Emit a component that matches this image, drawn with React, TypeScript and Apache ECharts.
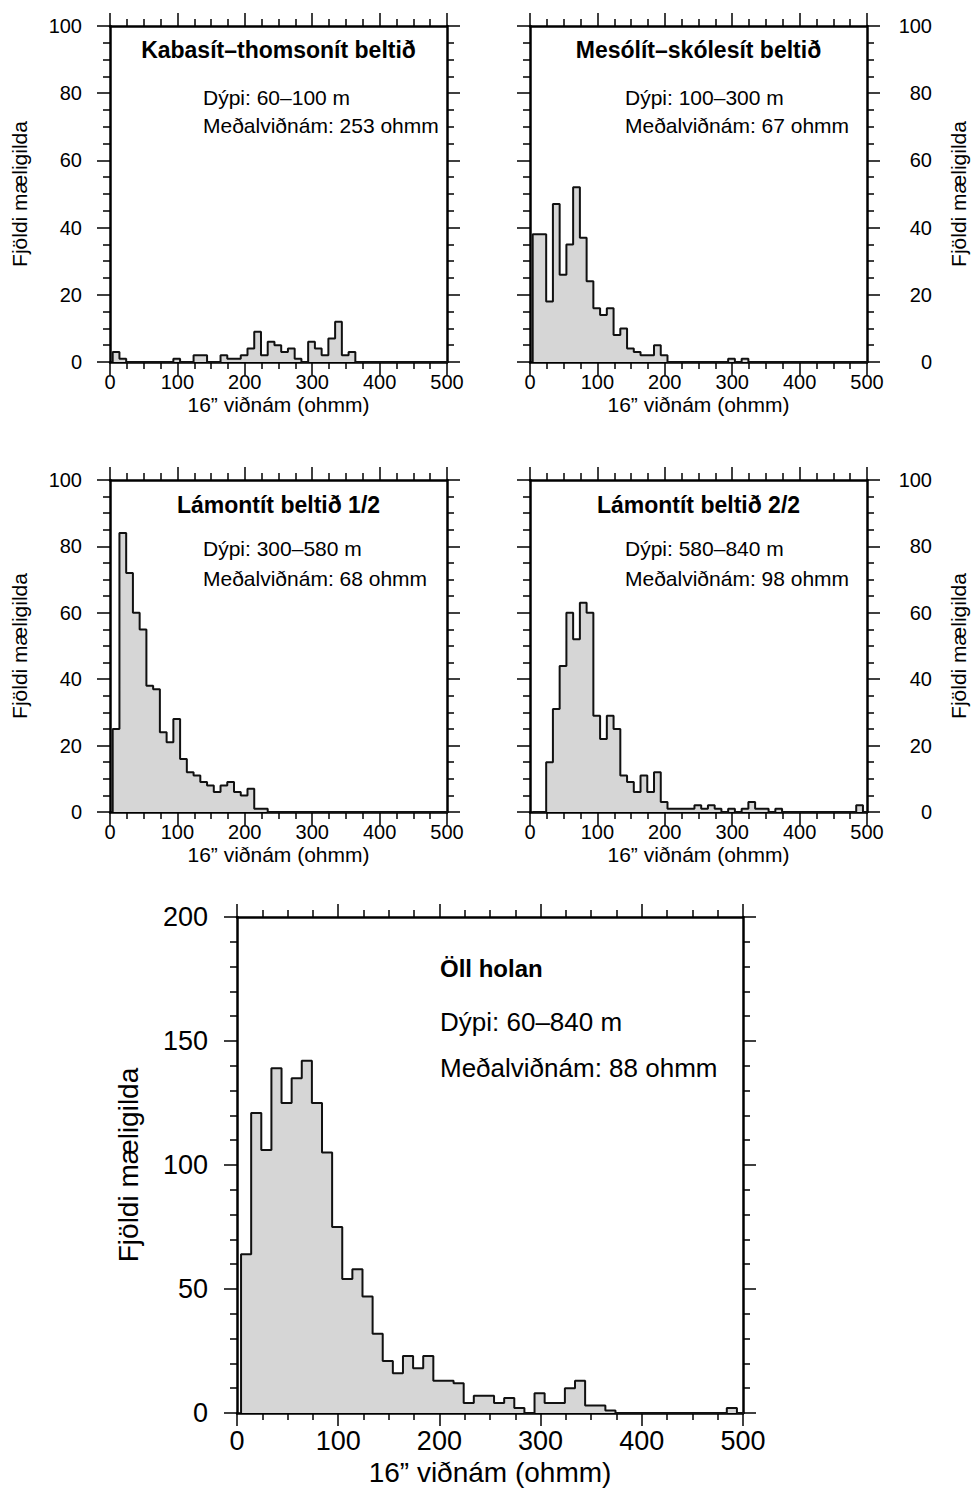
import React, { useEffect, useRef } from "react";
import * as echarts from "echarts";

// ---------- DATA ----------
const BIN_START = 4; // ohmm, left edge of first bin
const BIN_WIDTH = 10; // ohmm

const countsKabasit = [
  3, 1, 0, 0, 0, 0, 0, 0, 0, 1, 0, 0, 2, 2, 0, 0, 2, 1, 1, 2,
  4, 9, 2, 6, 5, 3, 4, 1, 0, 6, 4, 2, 7, 12, 2, 3, 0, 0, 0, 0,
  0, 0, 0, 0, 0, 0, 0, 0, 0, 0,
];
const countsMesolit = [
  38, 38, 18, 47, 26, 35, 52, 37, 24, 16, 14, 16, 8, 10, 4, 3, 2, 2, 5, 2,
  0, 0, 0, 0, 0, 0, 0, 0, 0, 1, 0, 1, 0, 0, 0, 0, 0, 0, 0, 0,
  0, 0, 0, 0, 0, 0, 0, 0, 0, 0,
];
const countsLamontit1 = [
  25, 84, 72, 60, 55, 38, 37, 24, 21, 28, 16, 12, 11, 9, 8, 6, 8, 9, 6, 5,
  7, 1, 1, 0, 0, 0, 0, 0, 0, 0, 0, 0, 0, 0, 0, 0, 0, 0, 0, 0,
  0, 0, 0, 0, 0, 0, 0, 0, 0, 0,
];
const countsLamontit2 = [
  0, 0, 15, 31, 44, 60, 52, 63, 60, 29, 22, 29, 25, 11, 9, 6, 11, 6, 12, 3,
  1, 1, 1, 1, 2, 1, 2, 1, 0, 1, 0, 1, 3, 1, 1, 0, 1, 0, 0, 0,
  0, 0, 0, 0, 0, 0, 0, 0, 2, 0,
];
const countsAll = [
  64, 121, 106, 139, 125, 135, 142, 125, 105, 75, 54, 58, 47, 32, 21, 16, 23, 18, 23, 13,
  13, 12, 4, 7, 7, 4, 6, 2, 0, 8, 4, 4, 10, 13, 3, 3, 1, 0, 0, 0,
  0, 0, 0, 0, 0, 0, 0, 0, 2, 0,
];

const titles = [
  "Kabasít–thomsonít beltið",
  "Mesólít–skólesít beltið",
  "Lámontít beltið 1/2",
  "Lámontít beltið 2/2",
  "Öll holan",
];
const depths = [
  "Dýpi: 60–100 m",
  "Dýpi: 100–300 m",
  "Dýpi: 300–580 m",
  "Dýpi: 580–840 m",
  "Dýpi: 60–840 m",
];
const means = [
  "Meðalviðnám: 253 ohmm",
  "Meðalviðnám: 67 ohmm",
  "Meðalviðnám: 68 ohmm",
  "Meðalviðnám: 98 ohmm",
  "Meðalviðnám: 88 ohmm",
];
const allCounts = [countsKabasit, countsMesolit, countsLamontit1, countsLamontit2, countsAll];
const xMax = 500;
const xInterval = 100;
const yMaxes = [100, 100, 100, 100, 200];
const yIntervals = [20, 20, 20, 20, 50];
const xName = "16” viðnám (ohmm)";
const yName = "Fjöldi mæligilda";

// ---------- LAYOUT ----------
const FONT = "Liberation Sans, Arial, Helvetica, sans-serif";
const small = { fs: 20, tfs: 23, bfs: 21, nameFs: 21, yMinor: 4, xLabelMargin: 10 };
const layouts = [
  { ...small, left: 110, top: 26, width: 337, height: 336, labelSide: "left",
    titleY: 50, depthY: 97, meanY: 125, textX: 203, yNameX: 19, xNameY: 404, yLabelMargin: 28 },
  { ...small, left: 530, top: 26, width: 337, height: 336, labelSide: "right",
    titleY: 50, depthY: 97, meanY: 125, textX: 625, yNameX: 958, xNameY: 404, yLabelMargin: 65 },
  { ...small, left: 110, top: 480, width: 337, height: 332, labelSide: "left",
    titleY: 505, depthY: 548, meanY: 578, textX: 203, yNameX: 19, xNameY: 854, yLabelMargin: 28 },
  { ...small, left: 530, top: 480, width: 337, height: 332, labelSide: "right",
    titleY: 505, depthY: 548, meanY: 578, textX: 625, yNameX: 958, xNameY: 854, yLabelMargin: 65 },
  { fs: 27, tfs: 24, bfs: 26, nameFs: 28, yMinor: 5, xLabelMargin: 14,
    left: 237, top: 917, width: 506, height: 496, labelSide: "left",
    titleY: 968, depthY: 1022, meanY: 1068, textX: 440, yNameX: 128, xNameY: 1472, yLabelMargin: 29 },
];

const frameLine = { color: "#000", width: 2.5 };
const tickLine = { color: "#000", width: 1.5 };

function stepData(counts: number[]) {
  const pts: number[][] = [[BIN_START, 0]];
  counts.forEach((c, i) => pts.push([BIN_START + i * BIN_WIDTH, c]));
  pts.push([BIN_START + counts.length * BIN_WIDTH, 0]);
  return pts;
}

function buildOption() {
  const grid: any[] = [];
  const xAxis: any[] = [];
  const yAxis: any[] = [];
  const series: any[] = [];
  const graphic: any[] = [];

  layouts.forEach((L, i) => {
    grid.push({ left: L.left, top: L.top, width: L.width, height: L.height, containLabel: false });
    const tickLen = 13;
    const minorLen = 7;
    const xCommon = {
      gridIndex: i, type: "value", min: 0, max: xMax, interval: xInterval,
      axisLine: { show: true, onZero: false, lineStyle: frameLine },
      axisTick: { show: true, length: tickLen, lineStyle: tickLine },
      minorTick: { show: true, splitNumber: 4, length: minorLen, lineStyle: tickLine },
      splitLine: { show: false }, minorSplitLine: { show: false },
    };
    xAxis.push({
      ...xCommon, position: "bottom",
      axisLabel: { show: true, fontSize: L.fs, color: "#000", fontFamily: FONT, margin: L.xLabelMargin, showMinLabel: true, showMaxLabel: true },
    });
    xAxis.push({ ...xCommon, position: "top", axisLabel: { show: false } });

    const yCommon = {
      gridIndex: i, type: "value", min: 0, max: yMaxes[i], interval: yIntervals[i],
      axisLine: { show: true, onZero: false, lineStyle: frameLine },
      axisTick: { show: true, length: tickLen, lineStyle: tickLine },
      minorTick: { show: true, splitNumber: L.yMinor, length: minorLen, lineStyle: tickLine },
      splitLine: { show: false }, minorSplitLine: { show: false },
    };
    const labelOn = {
      show: true, fontSize: L.fs, color: "#000", fontFamily: FONT, margin: L.yLabelMargin,
      showMinLabel: true, showMaxLabel: true, align: "right",
    };
    yAxis.push({ ...yCommon, position: "left", axisLabel: L.labelSide === "left" ? labelOn : { show: false } });
    yAxis.push({ ...yCommon, position: "right", axisLabel: L.labelSide === "right" ? labelOn : { show: false } });

    series.push({
      type: "line",
      xAxisIndex: 2 * i,
      yAxisIndex: 2 * i,
      step: "end",
      symbol: "none",
      data: stepData(allCounts[i]),
      lineStyle: { color: "#111", width: 2 },
      areaStyle: { color: "#d6d6d6", opacity: 1 },
      clip: true,
      z: 1,
    });

    // texts
    if (i === 4) {
      graphic.push({
        type: "text", x: L.textX, y: L.titleY,
        style: { text: titles[i], font: `bold ${L.tfs}px ${FONT}`, fill: "#000", textAlign: "left", textVerticalAlign: "middle" },
      });
    } else {
      graphic.push({
        type: "text", x: L.left + L.width / 2, y: L.titleY,
        style: { text: titles[i], font: `bold ${L.tfs}px ${FONT}`, fill: "#000", textAlign: "center", textVerticalAlign: "middle" },
      });
    }
    graphic.push({
      type: "text", x: L.textX, y: L.depthY,
      style: { text: depths[i], font: `${L.bfs}px ${FONT}`, fill: "#000", textAlign: "left", textVerticalAlign: "middle" },
    });
    graphic.push({
      type: "text", x: L.textX, y: L.meanY,
      style: { text: means[i], font: `${L.bfs}px ${FONT}`, fill: "#000", textAlign: "left", textVerticalAlign: "middle" },
    });
    graphic.push({
      type: "text", x: L.left + L.width / 2, y: L.xNameY,
      style: { text: xName, font: `${L.nameFs}px ${FONT}`, fill: "#000", textAlign: "center", textVerticalAlign: "middle" },
    });
    graphic.push({
      type: "text", x: L.yNameX, y: L.top + L.height / 2, rotation: Math.PI / 2,
      style: { text: yName, font: `${L.nameFs}px ${FONT}`, fill: "#000", textAlign: "center", textVerticalAlign: "middle" },
    });
  });

  return {
    animation: false,
    backgroundColor: "#fff",
    textStyle: { fontFamily: FONT },
    grid, xAxis, yAxis, series, graphic,
  };
}

export default function App() {
  const ref = useRef<HTMLDivElement>(null);
  useEffect(() => {
    if (!ref.current) return;
    const chart = echarts.init(ref.current, undefined, { renderer: "svg" });
    chart.setOption(buildOption() as any);
    return () => chart.dispose();
  }, []);
  return (
    <div
      ref={ref}
      style={{ position: "absolute", left: 0, top: 0, width: 972, height: 1491, background: "#fff" }}
    />
  );
}
